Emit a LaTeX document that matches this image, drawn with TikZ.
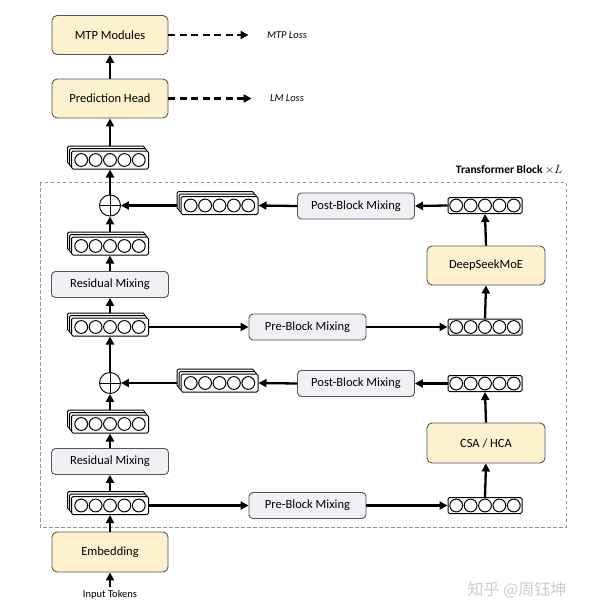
\documentclass[tikz,border=0pt]{standalone}
\usepackage{fontspec}
\setmainfont{Carlito}
\newfontfamily\cjk{Noto Sans CJK SC}
\usetikzlibrary{arrows.meta}

\definecolor{yellowfill}{RGB}{253,241,206}
\definecolor{grayfill}{RGB}{239,241,245}
\definecolor{boxline}{RGB}{85,85,85}
\definecolor{blockline}{RGB}{122,152,182}

\tikzset{
  yellowbox/.style={draw=boxline, fill=yellowfill, rounded corners=5pt, line width=0.9pt,
    minimum width=116pt, minimum height=39pt},
  graybox/.style={draw=boxline, fill=grayfill, rounded corners=4pt, line width=0.9pt,
    minimum width=117pt, minimum height=26pt},
  vecbox/.style={draw=black, fill=white, rounded corners=1.5pt, line width=1pt,
    minimum width=74pt, minimum height=16pt, inner sep=0pt},
  stackbox/.style={vecbox, minimum width=77pt, minimum height=18pt},
  vecdot/.style={line width=1pt},
  flow/.style={line width=2.3pt, -{Triangle[length=8pt,width=8pt]}},
  lossflow/.style={flow, dash pattern=on 7pt off 4.5pt, shorten >=15pt},
  plusnode/.style={draw, circle, line width=0.9pt, minimum size=21pt, inner sep=0pt,
    path picture={\draw[line width=0.9pt] (path picture bounding box.north) -- (path picture bounding box.south)
      (path picture bounding box.west) -- (path picture bounding box.east);}},
}

% one token vector: name, centre
\newcommand{\tokvec}[3][vecbox]{%
  \node[#1] (#2) at (#3) {};
  \foreach \k in {-2,...,2}
    \draw[vecdot] ([xshift=\k*14.4pt]#2.center) circle (6.4);
}
% stack of three token vectors: name, centre of the front one
\newcommand{\tokstack}[2]{%
  \node[stackbox, xshift=-4pt, yshift=5pt] (#1-b) at (#2) {};
  \node[stackbox, xshift=-2pt, yshift=2.5pt] (#1-m) at (#2) {};
  \tokvec[stackbox]{#1}{#2}
}

\begin{document}
\begin{tikzpicture}[x=1pt,y=-1pt,font=\fontsize{12.5}{14}\selectfont]
	\useasboundingbox (0,0) rectangle (589,615);

	% transformer block frame
	\draw[blockline, line width=0.9pt, dash pattern=on 3.5pt off 2.5pt] (40,182) rectangle (566,527);
	\node[anchor=east, font=\fontsize{11.5}{13}\selectfont\bfseries] (tfb) at (566,170) {Transformer Block $\times L$};

	% left column
	\node[yellowbox] (mtp) at (110,35) {MTP Modules};
	\node[yellowbox] (pred) at (110,98.5) {Prediction Head};
	\node[plusnode] (plusA) at (110,205.5) {};
	\node[graybox] (res1) at (110,284.5) {Residual Mixing};
	\node[plusnode] (plusB) at (110,383) {};
	\node[graybox] (res2) at (110,461.5) {Residual Mixing};
	\node[yellowbox, minimum height=40pt] (emb) at (110,552) {Embedding};
	\node[font=\fontsize{10.5}{12}\selectfont] (tok) at (110,595) {Input Tokens};

	% losses
	\node[font=\fontsize{10.5}{12}\selectfont\itshape] (mtploss) at (287,35) {MTP Loss};
	\node[font=\fontsize{10.5}{12}\selectfont\itshape] (lmloss) at (287,98.5) {LM Loss};

	% mixing and layers
	\node[graybox] (postA) at (356,206) {Post-Block Mixing};
	\node[graybox] (preA) at (307.5,327) {Pre-Block Mixing};
	\node[graybox] (postB) at (356,383.5) {Post-Block Mixing};
	\node[graybox] (preB) at (307.5,505.5) {Pre-Block Mixing};
	\node[yellowbox, minimum width=118pt] (moe) at (486,265.5) {DeepSeekMoE};
	\node[yellowbox, minimum width=118pt, minimum height=40pt] (csa) at (486,443) {CSA / HCA};

	% hidden states
	\tokstack{hS}{110,160}
	\tokstack{hR}{110,246}
	\tokstack{hP}{110,327}
	\tokstack{hQ}{110,424}
	\tokstack{hE}{110,505.5}
	\tokstack{hA}{219.5,205.5}
	\tokstack{hB}{219.5,383}
	\tokvec{vA}{485,205.5}
	\tokvec{vB}{485,327}
	\tokvec{vC}{485,383.5}
	\tokvec{vD}{485,505.5}

	% connectors
	\draw[flow] (tok.north) -- (emb.south);
	\draw[flow] (emb.north) -- (hE.south);
	\draw[flow] (hE-b.north -| hE.north) -- (res2.south);
	\draw[flow] (res2.north) -- (hQ.south);
	\draw[flow] (hQ-b.north -| hQ.north) -- (plusB.south);
	\draw[flow] (plusB.north) -- (hP.south);
	\draw[flow] (hP-b.north -| hP.north) -- (res1.south);
	\draw[flow] (res1.north) -- (hR.south);
	\draw[flow] (hR-b.north -| hR.north) -- (plusA.south);
	\draw[flow] (plusA.north) -- (hS.south);
	\draw[flow] (hS-b.north -| hS.north) -- (pred.south);
	\draw[flow] (pred.north) -- (mtp.south);
	\draw[lossflow] (mtp.east) -- (mtploss.west);
	\draw[lossflow] (pred.east) -- (lmloss.west);

	\draw[flow] (hE.east) -- (preB.west);
	\draw[flow] (preB.east) -- (vD.west);
	\draw[flow] (vD.north) -- (csa.south);
	\draw[flow] (csa.north) -- (vC.south);
	\draw[flow] (vC.west) -- (postB.east);
	\draw[flow] (postB.west) -- (hB.east);
	\draw[flow] (hB-b.west |- hB.west) -- (plusB.east);

	\draw[flow] (hP.east) -- (preA.west);
	\draw[flow] (preA.east) -- (vB.west);
	\draw[flow] (vB.north) -- (moe.south);
	\draw[flow] (moe.north) -- (vA.south);
	\draw[flow] (vA.west) -- (postA.east);
	\draw[flow] (postA.west) -- (hA.east);
	\draw[flow] (hA-b.west |- hA.west) -- (plusA.east);

	% watermark
	\node[font=\cjk\fontsize{16}{18}\selectfont, text=black!20] (mark) at (517,590) {知乎 @周钰坤};
\end{tikzpicture}
\end{document}
